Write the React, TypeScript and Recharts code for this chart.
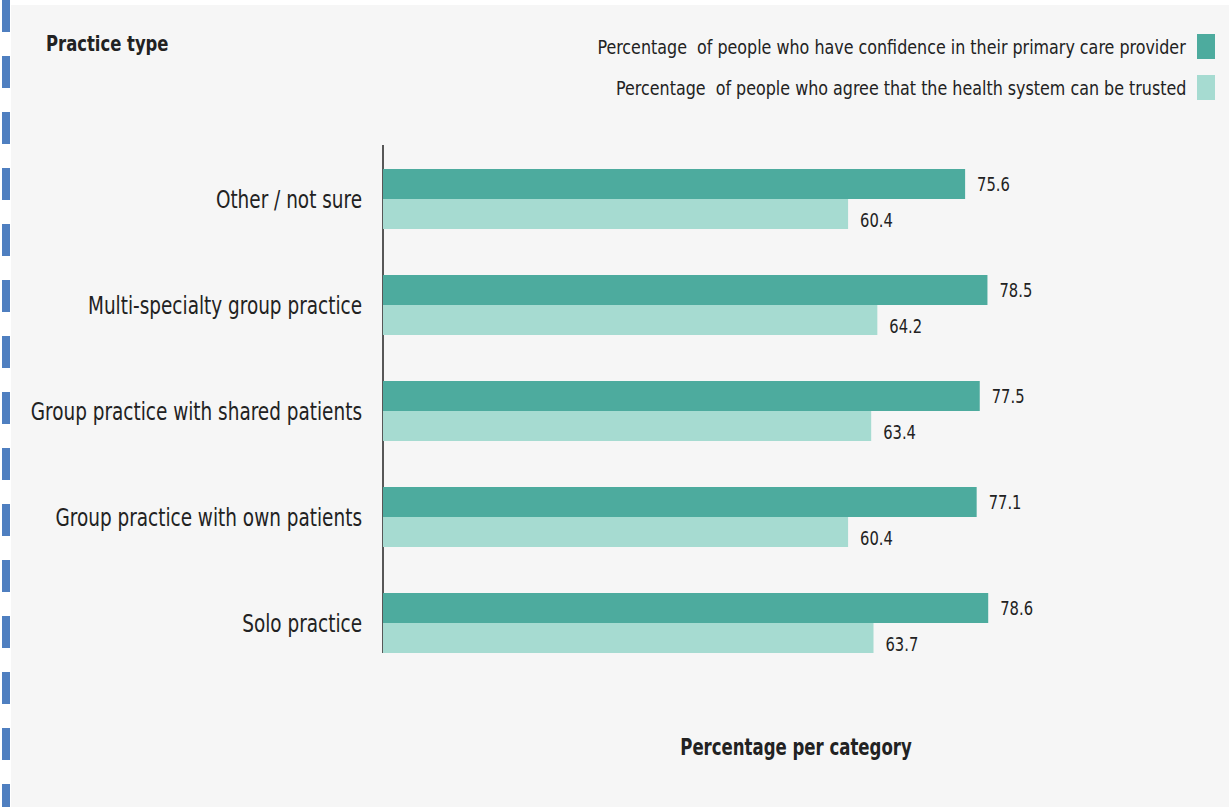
import React from "react";
import * as RC from "recharts";
import { BarChart, Bar, XAxis, YAxis, LabelList } from "recharts";

const categories = [
  "Other / not sure",
  "Multi-specialty group practice",
  "Group practice with shared patients",
  "Group practice with own patients",
  "Solo practice",
];
const confidence = [75.6, 78.5, 77.5, 77.1, 78.6];
const trust = [60.4, 64.2, 63.4, 60.4, 63.7];

const seriesNames = [
  "Percentage  of people who have confidence in their primary care provider",
  "Percentage  of people who agree that the health system can be trusted",
];
const seriesColors = ["#4dab9e", "#a6dbd1"];

const data = categories.map((name, i) => ({
  name,
  confidence: confidence[i],
  trust: trust[i],
}));

const FONT = "'DejaVu Sans Condensed', 'DejaVu Sans', sans-serif";
const CAT_GAP = 23;
// the source uses a narrow face; squeeze the available one horizontally
const SQUEEZE = 0.82;

// vertical axis line, stops at the bottom of the last bar pair
const AxisLine = () => {
  const hook = (RC as any).usePlotArea;
  const plot = hook ? hook() : undefined;
  if (!plot) return null;
  return (
    <line
      x1={plot.x}
      x2={plot.x}
      y1={plot.y - 1}
      y2={plot.y + plot.height - CAT_GAP}
      stroke="#222"
      strokeWidth={1.5}
    />
  );
};

const CategoryTick = (props: any) => {
  const { x, y, payload } = props;
  return (
    <g transform={`translate(${x},${y})`}>
      <text
        transform={`scale(${SQUEEZE},1)`}
        textAnchor="end"
        dominantBaseline="central"
        fontSize={25}
        fontFamily={FONT}
        fill="#222"
      >
        {payload.value}
      </text>
    </g>
  );
};

const valueLabel = (dy: number) => (props: any) => {
  const { x, y, width, height, value } = props;
  return (
    <g transform={`translate(${x + width + 12},${y + height / 2 + dy})`}>
      <text
        transform={`scale(${SQUEEZE},1)`}
        dominantBaseline="central"
        fontSize={20}
        fontFamily={FONT}
        fill="#222"
      >
        {value}
      </text>
    </g>
  );
};

const XTitle = (props: any) => {
  const vb = props.viewBox || { x: 0, y: 0, width: 0, height: 0 };
  const cx = vb.x + vb.width / 2 + 28;
  const cy = vb.y + vb.height - 1;
  return (
    <g transform={`translate(${cx},${cy})`}>
      <text
        transform="scale(0.8,1)"
        textAnchor="middle"
        fontSize={23}
        fontWeight="bold"
        fontFamily={FONT}
        fill="#222"
      >
        Percentage per category
      </text>
    </g>
  );
};

export default function App() {
  return (
    <div
      style={{
        position: "absolute",
        left: 0,
        top: 0,
        width: 1229,
        height: 807,
        background: "#fff",
        overflow: "hidden",
        fontFamily: FONT,
      }}
    >
      <div
        style={{
          position: "absolute",
          left: 2,
          top: 0,
          width: 8,
          height: 807,
          background:
            "repeating-linear-gradient(to bottom, #4f7fc0 0px, #4f7fc0 32px, transparent 32px, transparent 56px)",
        }}
      />
      <div
        style={{
          position: "absolute",
          left: 11,
          top: 5,
          width: 1218,
          height: 802,
          background: "#f6f6f6",
        }}
      />
      <div
        style={{
          position: "absolute",
          left: 46,
          top: 32,
          fontSize: 22,
          lineHeight: "24px",
          fontWeight: "bold",
          color: "#222",
          transform: "scaleX(0.83)",
          transformOrigin: "left center",
          whiteSpace: "nowrap",
        }}
      >
        Practice type
      </div>
      <div style={{ position: "absolute", right: 14, top: 34 }}>
        {seriesNames.map((s, i) => (
          <div
            key={s}
            style={{
              display: "flex",
              justifyContent: "flex-end",
              alignItems: "center",
              height: 25,
              marginBottom: 16,
            }}
          >
            <span
              style={{
                display: "inline-block",
                fontSize: 20,
                color: "#222",
                whiteSpace: "pre",
                transform: "scaleX(0.885)",
                transformOrigin: "right center",
              }}
            >
              {s}
            </span>
            <span
              style={{
                display: "inline-block",
                width: 18,
                height: 25,
                marginLeft: 11,
                background: seriesColors[i],
              }}
            />
          </div>
        ))}
      </div>
      <div style={{ position: "absolute", left: 0, top: 0 }}>
        <BarChart
          width={1229}
          height={807}
          data={data}
          layout="vertical"
          margin={{ top: 146, right: 76, bottom: 51, left: 0 }}
          barCategoryGap={CAT_GAP}
          barGap={0}
        >
          <XAxis
            type="number"
            domain={[0, 100]}
            height={80}
            axisLine={false}
            tickLine={false}
            tick={false}
            label={<XTitle />}
          />
          <YAxis
            type="category"
            dataKey="name"
            width={383}
            axisLine={false}
            tickLine={false}
            tickSize={0}
            tickMargin={21}
            tick={<CategoryTick />}
          />
          <AxisLine />
          <Bar dataKey="confidence" fill={seriesColors[0]} isAnimationActive={false}>
            <LabelList dataKey="confidence" content={valueLabel(0)} />
          </Bar>
          <Bar dataKey="trust" fill={seriesColors[1]} isAnimationActive={false}>
            <LabelList dataKey="trust" content={valueLabel(6)} />
          </Bar>
        </BarChart>
      </div>
    </div>
  );
}
